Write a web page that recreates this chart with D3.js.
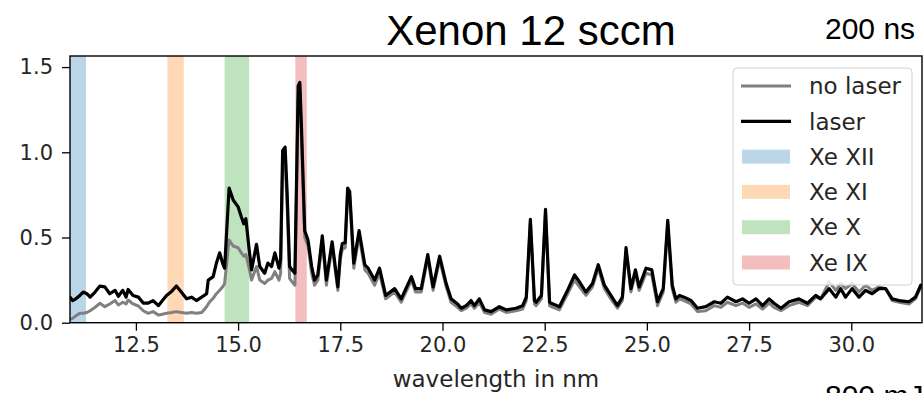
<!DOCTYPE html>
<html>
<head>
<meta charset="utf-8">
<script src="https://cdn.jsdelivr.net/npm/d3@7"></script>
<style>
  html, body { margin: 0; padding: 0; background: #fff; overflow: hidden; }
  svg { display: block; }
</style>
</head>
<body>
<svg id="chart" width="924" height="393"></svg>
<script>
// Emission spectrum, wavelength in nm
const wavelength = [
  10.89, 10.95, 11.03, 11.13, 11.21, 11.30, 11.38, 11.50, 11.62, 11.74,
  11.86, 11.99, 12.07, 12.18, 12.26, 12.31, 12.43, 12.56, 12.68, 12.80,
  12.92, 13.05, 13.15, 13.25, 13.38, 13.49, 13.61, 13.74, 13.86, 13.98,
  14.11, 14.23, 14.27, 14.33, 14.39, 14.47, 14.55, 14.62, 14.67, 14.78,
  14.88, 15.00, 15.08, 15.14, 15.19, 15.27, 15.33, 15.45, 15.53, 15.65,
  15.73, 15.82, 15.90, 16.00, 16.04, 16.09, 16.15, 16.20, 16.26, 16.32,
  16.39, 16.47, 16.51, 16.55, 16.63, 16.71, 16.80, 16.87, 16.95, 17.06,
  17.16, 17.30, 17.44, 17.50, 17.55, 17.62, 17.68, 17.73, 17.83, 17.96,
  18.10, 18.18, 18.34, 18.46, 18.61, 18.83, 18.99, 19.24, 19.34, 19.48,
  19.64, 19.77, 19.93, 20.09, 20.21, 20.37, 20.46, 20.58, 20.70, 20.78,
  20.90, 21.03, 21.19, 21.39, 21.56, 21.80, 21.96, 22.05, 22.15, 22.25,
  22.29, 22.42, 22.52, 22.62, 22.66, 22.86, 23.06, 23.23, 23.35, 23.51,
  23.67, 23.81, 23.96, 24.12, 24.28, 24.40, 24.49, 24.61, 24.72, 24.81,
  24.98, 25.12, 25.26, 25.40, 25.51, 25.62, 25.71, 25.80, 25.91, 26.08,
  26.24, 26.44, 26.65, 26.81, 26.97, 27.18, 27.34, 27.50, 27.67, 27.83,
  27.99, 28.11, 28.28, 28.48, 28.72, 28.93, 29.13, 29.25, 29.46, 29.62,
  29.74, 29.86, 30.02, 30.19, 30.35, 30.51, 30.68, 30.84, 31.00, 31.17,
  31.41, 31.57, 31.70
];

const noLaser = [
  0.020, 0.025, 0.040, 0.055, 0.055, 0.060, 0.070, 0.090, 0.114, 0.094,
  0.110, 0.130, 0.104, 0.120, 0.110, 0.133, 0.110, 0.098, 0.070, 0.055,
  0.065, 0.045, 0.050, 0.055, 0.060, 0.065, 0.060, 0.055, 0.060, 0.055,
  0.060, 0.094, 0.110, 0.130, 0.143, 0.170, 0.190, 0.210, 0.230, 0.485,
  0.450, 0.440, 0.410, 0.390, 0.400, 0.320, 0.250, 0.330, 0.250, 0.230,
  0.250, 0.260, 0.300, 0.250, 0.290, 0.930, 0.950, 0.680, 0.260, 0.240,
  0.220, 1.320, 1.350, 1.080, 0.500, 0.450, 0.290, 0.220, 0.250, 0.480,
  0.220, 0.450, 0.190, 0.370, 0.430, 0.440, 0.760, 0.740, 0.320, 0.510,
  0.310, 0.290, 0.220, 0.290, 0.140, 0.180, 0.120, 0.250, 0.180, 0.180,
  0.380, 0.190, 0.370, 0.210, 0.120, 0.090, 0.070, 0.085, 0.110, 0.085,
  0.120, 0.060, 0.050, 0.080, 0.060, 0.070, 0.080, 0.130, 0.590, 0.110,
  0.100, 0.140, 0.650, 0.100, 0.095, 0.075, 0.170, 0.250, 0.210, 0.160,
  0.210, 0.320, 0.200, 0.140, 0.085, 0.130, 0.420, 0.180, 0.290, 0.190,
  0.290, 0.280, 0.100, 0.180, 0.580, 0.200, 0.120, 0.140, 0.130, 0.110,
  0.065, 0.070, 0.100, 0.090, 0.120, 0.100, 0.115, 0.090, 0.110, 0.080,
  0.115, 0.090, 0.070, 0.100, 0.120, 0.100, 0.150, 0.140, 0.240, 0.190,
  0.230, 0.200, 0.230, 0.180, 0.220, 0.190, 0.210, 0.200, 0.130, 0.120,
  0.110, 0.140, 0.210
];

const laser = [
  0.150, 0.130, 0.140, 0.160, 0.180, 0.170, 0.150, 0.180, 0.215, 0.210,
  0.170, 0.190, 0.155, 0.190, 0.150, 0.195, 0.160, 0.150, 0.115, 0.115,
  0.130, 0.100, 0.130, 0.160, 0.185, 0.215, 0.180, 0.140, 0.150, 0.130,
  0.150, 0.170, 0.250, 0.260, 0.270, 0.350, 0.410, 0.350, 0.320, 0.790,
  0.720, 0.680, 0.620, 0.580, 0.610, 0.430, 0.310, 0.460, 0.330, 0.290,
  0.350, 0.330, 0.410, 0.320, 0.370, 1.010, 1.030, 0.760, 0.330, 0.310,
  0.290, 1.390, 1.410, 1.150, 0.540, 0.485, 0.330, 0.250, 0.280, 0.510,
  0.250, 0.475, 0.210, 0.400, 0.465, 0.470, 0.790, 0.770, 0.350, 0.540,
  0.340, 0.320, 0.250, 0.320, 0.160, 0.200, 0.140, 0.270, 0.200, 0.200,
  0.400, 0.210, 0.390, 0.230, 0.140, 0.110, 0.085, 0.100, 0.130, 0.100,
  0.140, 0.075, 0.065, 0.094, 0.075, 0.085, 0.100, 0.150, 0.607, 0.130,
  0.120, 0.160, 0.665, 0.120, 0.114, 0.094, 0.190, 0.280, 0.240, 0.180,
  0.230, 0.340, 0.220, 0.160, 0.100, 0.150, 0.440, 0.200, 0.310, 0.210,
  0.320, 0.310, 0.123, 0.200, 0.600, 0.220, 0.140, 0.160, 0.150, 0.130,
  0.085, 0.094, 0.123, 0.114, 0.150, 0.123, 0.140, 0.114, 0.140, 0.100,
  0.140, 0.114, 0.085, 0.123, 0.140, 0.114, 0.160, 0.140, 0.200, 0.150,
  0.200, 0.150, 0.200, 0.150, 0.190, 0.170, 0.200, 0.200, 0.140, 0.130,
  0.123, 0.150, 0.220
];

// Charge-state bands (nm)
const bandNames = ["Xe XII", "Xe XI", "Xe X", "Xe IX"];
const bandStart = [10.70, 13.27, 14.67, 16.40];
const bandEnd   = [11.28, 13.67, 15.27, 16.68];
const bandColors = ["#1f77b4", "#ff7f0e", "#2ca02c", "#d62728"];

const xTicks = [12.5, 15.0, 17.5, 20.0, 22.5, 25.0, 27.5, 30.0];
const yTicks = [0.0, 0.5, 1.0, 1.5];

const seriesNames = ["no laser", "laser"];
const seriesColors = ["#808080", "#000000"];

(function draw() {
  const svg = d3.select("#chart");
  const pL = 70, pR = 922, pT = 56, pB = 322.7;

  const x = d3.scaleLinear().domain([10.888, 31.73]).range([pL, pR]);
  const y = d3.scaleLinear().domain([0, 1.565]).range([pB, pT]);

  svg.append("defs").append("clipPath").attr("id", "plotClip")
    .append("rect").attr("x", pL).attr("y", pT)
    .attr("width", pR - pL).attr("height", pB - pT);

  const plot = svg.append("g").attr("clip-path", "url(#plotClip)");

  // shaded wavelength bands
  plot.selectAll("rect.band")
    .data(bandNames.map((n, i) => ({ n, lo: bandStart[i], hi: bandEnd[i], c: bandColors[i] })))
    .join("rect")
    .attr("class", "band")
    .attr("x", d => x(d.lo))
    .attr("width", d => x(d.hi) - x(d.lo))
    .attr("y", pT)
    .attr("height", pB - pT)
    .attr("fill", d => d.c)
    .attr("fill-opacity", 0.3);

  // spectra
  const line = d3.line().x(d => x(d[0])).y(d => y(d[1]));
  [noLaser, laser].forEach((vals, i) => {
    plot.append("path")
      .datum(wavelength.map((w, k) => [w, vals[k]]))
      .attr("d", line)
      .attr("fill", "none")
      .attr("stroke", seriesColors[i])
      .attr("stroke-width", i === 0 ? 3 : 3.2)
      .attr("stroke-linejoin", "round")
      .attr("stroke-linecap", "round");
  });

  // axes
  const fontTick = "'DejaVu Sans', sans-serif";
  const xAxis = svg.append("g").attr("transform", `translate(0,${pB})`)
    .call(d3.axisBottom(x).tickValues(xTicks).tickFormat(d3.format(".1f")).tickSize(8).tickPadding(6));
  const yAxis = svg.append("g").attr("transform", `translate(${pL},0)`)
    .call(d3.axisLeft(y).tickValues(yTicks).tickFormat(d3.format(".1f")).tickSize(8).tickPadding(9));
  [xAxis, yAxis].forEach(a => {
    a.select(".domain").remove();
    a.selectAll(".tick line").attr("stroke", "#000").attr("stroke-width", 1.3);
    a.selectAll(".tick text").attr("fill", "#262626")
      .style("font-family", fontTick).style("font-size", "21px");
  });

  // frame
  svg.append("rect").attr("x", pL).attr("y", pT)
    .attr("width", pR - pL).attr("height", pB - pT)
    .attr("fill", "none").attr("stroke", "#000").attr("stroke-width", 1.4);

  // axis label
  svg.append("text").attr("x", (pL + pR) / 2).attr("y", 387)
    .attr("text-anchor", "middle").attr("fill", "#262626")
    .style("font-family", fontTick).style("font-size", "23px")
    .text("wavelength in nm");

  // titles
  const fontTitle = "'Liberation Sans', Arial, sans-serif";
  svg.append("text").attr("x", 531).attr("y", 45).attr("text-anchor", "middle")
    .attr("fill", "#000").style("font-family", fontTitle).style("font-size", "42px")
    .text("Xenon 12 sccm");
  svg.append("text").attr("x", 825).attr("y", 39)
    .attr("fill", "#000").style("font-family", fontTitle).style("font-size", "30px")
    .text("200 ns");
  svg.append("text").attr("x", 825).attr("y", 406)
    .attr("fill", "#000").style("font-family", fontTitle).style("font-size", "30px")
    .text("800 mJ");

  // legend
  const lg = svg.append("g");
  lg.append("rect").attr("x", 733).attr("y", 68).attr("width", 179).attr("height", 217)
    .attr("rx", 4).attr("fill", "#fff").attr("fill-opacity", 0.8)
    .attr("stroke", "#d0d0d0").attr("stroke-width", 1);
  const rowY = i => 86 + i * 35.3;
  seriesNames.forEach((n, i) => {
    lg.append("line").attr("x1", 741).attr("x2", 791).attr("y1", rowY(i)).attr("y2", rowY(i))
      .attr("stroke", seriesColors[i]).attr("stroke-width", i === 0 ? 3 : 3.2);
    lg.append("text").attr("x", 809).attr("y", rowY(i)).attr("dy", "0.36em")
      .attr("fill", "#262626").style("font-family", fontTick).style("font-size", "23px").text(n);
  });
  bandNames.forEach((n, i) => {
    const r = i + 2;
    lg.append("rect").attr("x", 742).attr("y", rowY(r) - 7).attr("width", 48).attr("height", 14)
      .attr("fill", bandColors[i]).attr("fill-opacity", 0.3);
    lg.append("text").attr("x", 809).attr("y", rowY(r)).attr("dy", "0.36em")
      .attr("fill", "#262626").style("font-family", fontTick).style("font-size", "23px").text(n);
  });
})();
</script>
</body>
</html>
